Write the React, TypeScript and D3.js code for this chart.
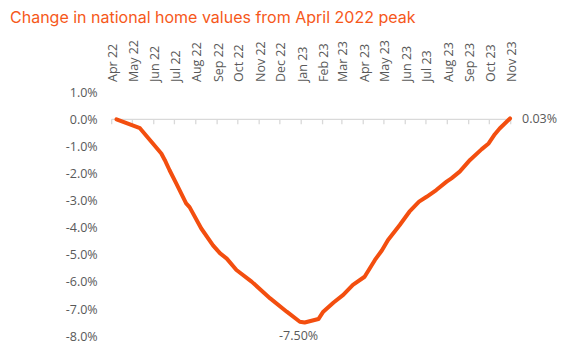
import React from "react";
import * as d3 from "d3";

const TITLE = "Change in national home values from April 2022 peak";

// Dates (yyyy-mm-dd) and % change from April 2022 peak
const dates = [
  "2022-04-08", "2022-05-12", "2022-06-12", "2022-06-17", "2022-06-24", "2022-07-04",
  "2022-07-18", "2022-07-23", "2022-08-09", "2022-08-26", "2022-09-05", "2022-09-15",
  "2022-09-29", "2022-10-21", "2022-11-17", "2022-12-11", "2022-12-30", "2023-01-06",
  "2023-01-26", "2023-02-02", "2023-02-17", "2023-03-03", "2023-03-17", "2023-04-03",
  "2023-04-18", "2023-04-28", "2023-05-07", "2023-05-24", "2023-06-07", "2023-06-21",
  "2023-07-02", "2023-07-16", "2023-07-31", "2023-08-07", "2023-08-19", "2023-09-03",
  "2023-09-20", "2023-09-30", "2023-10-09", "2023-10-16", "2023-10-31",
];
const values = [
  0.0, -0.33, -1.26, -1.5, -1.88, -2.38,
  -3.1, -3.24, -4.03, -4.65, -4.94, -5.14,
  -5.56, -5.99, -6.61, -7.1, -7.47, -7.5,
  -7.37, -7.1, -6.76, -6.48, -6.11, -5.81,
  -5.19, -4.84, -4.45, -3.9, -3.41, -3.04,
  -2.86, -2.61, -2.3, -2.18, -1.93, -1.5,
  -1.1, -0.89, -0.55, -0.34, 0.03,
];
const monthTicks = [
  "2022-04-01", "2022-05-01", "2022-06-01", "2022-07-01", "2022-08-01", "2022-09-01",
  "2022-10-01", "2022-11-01", "2022-12-01", "2023-01-01", "2023-02-01", "2023-03-01",
  "2023-04-01", "2023-05-01", "2023-06-01", "2023-07-01", "2023-08-01", "2023-09-01",
  "2023-10-01", "2023-11-01",
];
const monthLabels = [
  "Apr 22", "May 22", "Jun 22", "Jul 22", "Aug 22", "Sep 22", "Oct 22", "Nov 22",
  "Dec 22", "Jan 23", "Feb 23", "Mar 23", "Apr 23", "May 23", "Jun 23", "Jul 23",
  "Aug 23", "Sep 23", "Oct 23", "Nov 23",
];
const yTicks = [1, 0, -1, -2, -3, -4, -5, -6, -7, -8];

const parse = d3.utcParse("%Y-%m-%d");

export default function App() {
  const W = 564, H = 363;
  const x = d3
    .scaleUtc()
    .domain([parse("2022-04-01")!, parse("2023-11-01")!])
    .range([111.7, 510.7]);
  const y = d3.scaleLinear().domain([1, -8]).range([92.2, 336.1]);

  const pts = dates.map((d, i) => ({ d: parse(d)!, v: values[i] }));
  const line = d3
    .line<{ d: Date; v: number }>()
    .x((p) => x(p.d))
    .y((p) => y(p.v));

  const minIdx = d3.minIndex(values);
  const lastIdx = values.length - 1;
  const labelFont = "'Open Sans', sans-serif";
  const gray = "#595959";
  const fmtAxis = (v: number) => (v.toFixed(1) === "-0.0" ? "0.0" : v.toFixed(1)) + "%";

  return (
    <svg
      width={W}
      height={H}
      style={{ position: "absolute", left: 0, top: 0, background: "#fff" }}
    >
      <text
        x={10}
        y={23}
        fill="#F6581A"
        fontFamily="Inter, 'Noto Sans', sans-serif"
        fontSize={16}
      >
        {TITLE}
      </text>

      {/* x labels (rotated) */}
      {monthTicks.map((t, i) => {
        const tx = x(parse(t)!);
        return (
          <text
            key={t}
            transform={`translate(${tx + 1},82) rotate(-90)`}
            textAnchor="start"
            dominantBaseline="central"
            fill={gray}
            fontFamily={labelFont}
            fontSize={12.5}
          >
            {monthLabels[i]}
          </text>
        );
      })}

      {/* y labels */}
      {yTicks.map((v) => (
        <text
          key={v}
          x={97.7}
          y={y(v)}
          textAnchor="end"
          dominantBaseline="central"
          fill={gray}
          fontFamily={labelFont}
          fontSize={12.5}
        >
          {fmtAxis(v)}
        </text>
      ))}

      {/* zero axis line and ticks */}
      <line x1={111.7} x2={510.7} y1={y(0)} y2={y(0)} stroke="#d9d9d9" strokeWidth={1.3} />
      {monthTicks.map((t) => {
        const tx = x(parse(t)!);
        return (
          <line key={t} x1={tx} x2={tx} y1={y(0)} y2={y(0) + 5} stroke="#d9d9d9" strokeWidth={1.3} />
        );
      })}

      <path
        d={line(pts) || ""}
        fill="none"
        stroke="#F34E0F"
        strokeWidth={4}
        strokeLinejoin="round"
        strokeLinecap="round"
      />

      {/* data labels */}
      <text
        x={x(pts[lastIdx].d) + 12}
        y={y(values[lastIdx])}
        dominantBaseline="central"
        fill={gray}
        fontFamily={labelFont}
        fontSize={12.5}
      >
        {values[lastIdx].toFixed(2) + "%"}
      </text>
      <text
        x={x(pts[minIdx].d) - 6}
        y={y(values[minIdx]) + 13}
        textAnchor="middle"
        dominantBaseline="central"
        fill={gray}
        fontFamily={labelFont}
        fontSize={12.5}
      >
        {values[minIdx].toFixed(2) + "%"}
      </text>
    </svg>
  );
}
